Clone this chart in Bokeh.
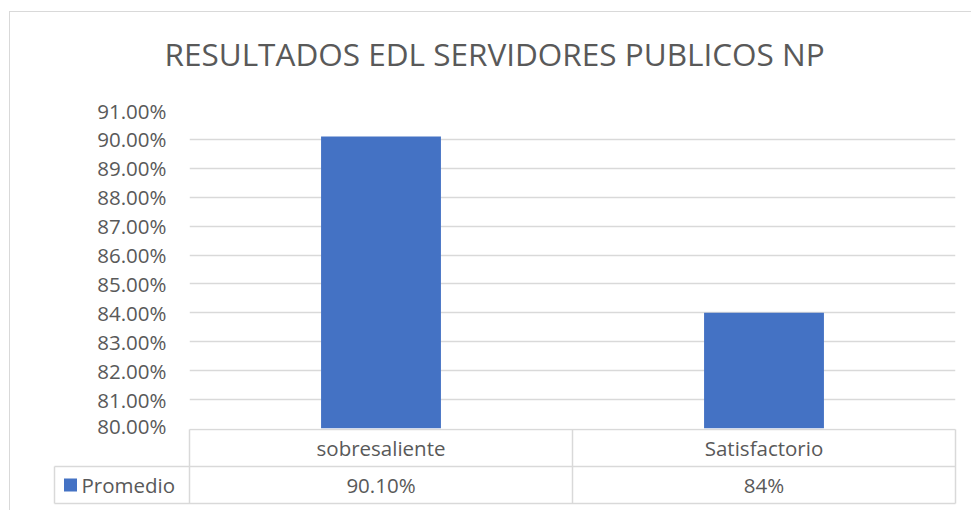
from bokeh.plotting import figure
from bokeh.models import (FactorRange, Range1d, FixedTicker, NumeralTickFormatter,
                          ColumnDataSource, Title)
from bokeh.layouts import column
from bokeh.embed import file_html
from bokeh.resources import INLINE
from bokeh.core.properties import value

# ---- data ----
title_text = "RESULTADOS EDL SERVIDORES PUBLICOS NP"
categories = ["sobresaliente", "Satisfactorio"]
promedio = [0.901, 0.84]
promedio_labels = ["90.10%", "84%"]
series_name = "Promedio"
y_ticks = [0.80, 0.81, 0.82, 0.83, 0.84, 0.85, 0.86, 0.87, 0.88, 0.89, 0.90, 0.91]
y_min, y_max = 0.80, 0.91

# ---- style ----
FONT = "Open Sans"
TXT = "#595959"
GRID = "#d9d9d9"
BAR = "#4472C4"
FS = "20.5px"

W = 961
LEFT = 179
RIGHT = 16
frame_w = W - LEFT - RIGHT
px_cat = frame_w / len(categories)
ROW = 37.0
OVER = 11

# ---- chart ----
pA = figure(width=W, height=416 + OVER, x_range=FactorRange(*categories, range_padding=0),
            y_range=Range1d(y_min, y_max), output_backend="svg", toolbar_location=None,
            min_border_left=LEFT, min_border_right=RIGHT, min_border_top=98,
            min_border_bottom=OVER)
pA.frame_align = False
pA.title = None
# spacer between frame and title
pA.add_layout(Title(text=" ", text_font_size="1px", standoff=28), "above")
pA.add_layout(Title(text=title_text, align="left", offset=-25, text_font=FONT,
                    text_font_size="31.5px", text_font_style="normal", text_color=TXT,
                    vertical_align="bottom", standoff=10), "above")
pA.outline_line_color = None
pA.xaxis.visible = False
pA.xgrid.grid_line_color = None
pA.ygrid.grid_line_color = GRID
pA.ygrid.grid_line_width = 1.3
yax = pA.yaxis[0]
yax.ticker = FixedTicker(ticks=y_ticks)
yax.formatter = NumeralTickFormatter(format="0.00%")
yax.axis_line_color = None
yax.major_tick_line_color = None
yax.minor_tick_line_color = None
yax.major_tick_in = 0
yax.major_tick_out = 0
yax.major_label_standoff = 23
yax.major_label_text_font = FONT
yax.major_label_text_font_size = FS
yax.major_label_text_color = TXT

srcA = ColumnDataSource(dict(cat=categories, val=promedio))
pA.vbar(x="cat", top="val", bottom=y_min, width=0.313, source=srcA,
        fill_color=BAR, line_color=None)

# ---- data table ----
n = len(categories)
HB = 82
leg_left = -(189 - 54) / px_cat
pB = figure(width=W, height=HB, x_range=Range1d(-LEFT / px_cat, n + RIGHT / px_cat),
            y_range=Range1d(2 + 1 / ROW - HB / ROW, 2 + 1 / ROW),
            output_backend="svg", toolbar_location=None,
            min_border_left=0, min_border_right=0, min_border_top=0, min_border_bottom=0,
            background_fill_color=None, border_fill_color=None,
            styles={"margin-top": f"-{OVER}px"})
pB.frame_align = False
pB.outline_line_color = None
pB.axis.visible = False
pB.grid.grid_line_color = None

x0, y0, x1, y1 = [], [], [], []
for k in range(n + 1):
    x0.append(k); x1.append(k); y0.append(0); y1.append(2)
x0.append(leg_left); x1.append(leg_left); y0.append(0); y1.append(1)
x0 += [0, leg_left, leg_left]; x1 += [n, n, n]; y0 += [2, 1, 0]; y1 += [2, 1, 0]
pB.segment(x0=x0, y0=y0, x1=x1, y1=y1, line_color=GRID, line_width=1.5)

xs = [i + 0.5 for i in range(n)]
pB.text(x=xs, y=[1.5] * n, text=categories, text_font=value(FONT), text_font_size=FS,
        text_color=TXT, text_align="center", text_baseline="middle")
pB.text(x=xs, y=[0.5] * n, text=promedio_labels, text_font=value(FONT),
        text_font_size=FS, text_color=TXT, text_align="center", text_baseline="middle")
pB.scatter(x=[leg_left + 16 / px_cat], y=[0.5], marker="square", size=13,
           fill_color=BAR, line_color=None)
pB.text(x=[leg_left + 27 / px_cat], y=[0.5], text=[series_name], text_font=value(FONT),
        text_font_size=FS, text_color=TXT, text_align="left", text_baseline="middle")

layout = column(pA, pB, spacing=0,
                styles={"border-left": "1px solid #d9d9d9", "border-top": "1px solid #d9d9d9",
                        "margin-top": "11px", "margin-left": "9px"})

open("out.html", "w").write(file_html(layout, INLINE))
